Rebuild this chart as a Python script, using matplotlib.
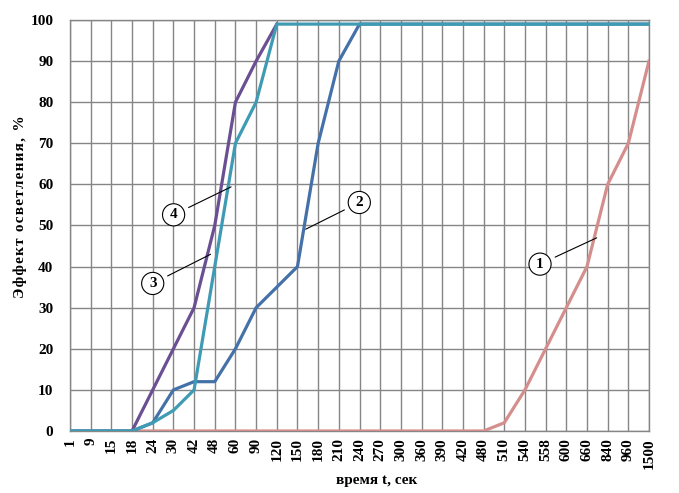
import numpy as np
import matplotlib.pyplot as plt

plt.rcParams['font.family'] = ['Liberation Serif', 'DejaVu Serif']
plt.rcParams['font.weight'] = 'bold'

times = ['1', '9', '15', '18', '24', '30', '42', '48', '60', '90', '120', '150',
         '180', '210', '240', '270', '300', '360', '390', '420', '480', '510',
         '540', '558', '600', '660', '840', '960', '1500']

nan = np.nan
s1 = [0, 0, 0, 0, 0, 0, 0, 0, 0, 0, 0, 0, 0, 0, 0, 0, 0, 0, 0, 0, 0, 2,
      10, 20, 30, 40, 60, 70, 90]
s2 = [0, 0, 0, 0, 2, 10, 12, 12, 20, 30, 35, 40, 70, 90, 99, 99, 99, 99,
      99, 99, 99, 99, 99, 99, 99, 99, 99, 99, 99]
s3 = [0, 0, 0, 0, 2, 5, 10, 40, 70, 80, 99, 99, 99, 99, 99, 99, 99, 99,
      99, 99, 99, 99, 99, 99, 99, 99, 99, 99, 99]
s4 = [nan, nan, nan, 0, 10, 20, 30, 50, 80, 90, 99] + [nan] * 18

# label, circle position, leader end (category index, %)
marks = [('1', (22.73, 40.6), (25.47, 47.0)),
         ('2', (13.99, 55.6), (11.4, 49.1)),
         ('3', (4.0, 35.9), (6.8, 43.0)),
         ('4', (5.01, 52.6), (7.79, 59.4))]

x = np.arange(len(times))

fig = plt.figure(figsize=(6.79, 4.93), dpi=100)
ax = fig.add_axes([70 / 679, 1 - 431 / 493, 579 / 679, 411 / 493])

lw = 2.3
ax.plot(x, s1, color='#d48e8c', lw=lw, zorder=3)
ax.plot(x, s4, color='#6a4f92', lw=lw, zorder=3)
ax.plot(x, s2, color='#4472a8', lw=lw, zorder=3)
ax.plot(x, s3, color='#3f9bb4', lw=lw, zorder=3)

for lab, (cx, cy), (ex, ey) in marks:
    ax.annotate('', xy=(ex, ey), xytext=(cx, cy),
                arrowprops=dict(arrowstyle='-', color='black', lw=0.8,
                                shrinkA=12, shrinkB=0), zorder=4)
    ax.text(cx, cy, lab, ha='center', va='center', fontsize=11,
            fontweight='bold', zorder=5,
            bbox=dict(boxstyle='circle,pad=0.3', fc='white', ec='black', lw=0.8))

ax.set_xlim(0, len(times) - 1)
ax.set_ylim(0, 100)
ax.set_xticks(x)
ax.set_xticklabels(times, rotation=90, fontsize=11, fontweight='bold')
ax.set_yticks(range(0, 101, 10))
ax.set_yticklabels([str(v) for v in range(0, 101, 10)], fontsize=11,
                   fontweight='bold')
ax.tick_params(axis='y', length=0, pad=12)
ax.tick_params(axis='x', length=0, pad=5)
ax.grid(True, color='#868686', lw=1, zorder=1)
for sp in ax.spines.values():
    sp.set_color('#868686')
    sp.set_linewidth(1)

ylab = '\u200a'.join('Эффект осветления, %')
ax.set_ylabel(ylab, fontsize=11, fontweight='bold')
ax.yaxis.set_label_coords(-0.074, 0.545)
ax.set_xlabel('время t, сек', fontsize=11, fontweight='bold')
ax.xaxis.set_label_coords((377 - 70) / 579, -0.105)

fig.savefig('out.png', dpi=100)
